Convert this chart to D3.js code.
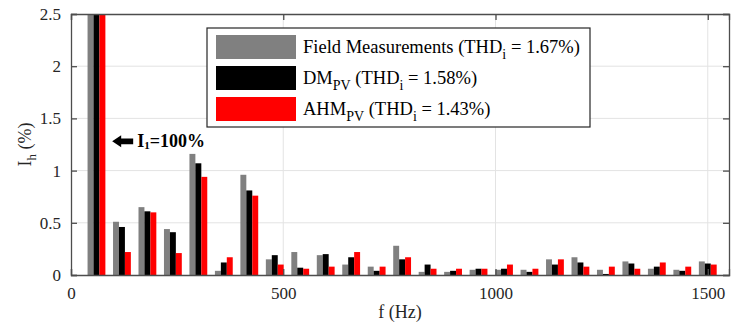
<!DOCTYPE html>
<html>
<head>
<meta charset="utf-8">
<script src="https://cdn.jsdelivr.net/npm/d3@7"></script>
<style>
  body { margin: 0; background: #fff; }
</style>
</head>
<body>
<svg width="742" height="323" font-family="Liberation Serif"></svg>
<script>
// harmonic orders (fundamental 60 Hz)
var orders = d3.range(1, 26);
var fundamental = 60;

// I_h in % of fundamental
var fieldMeas = [100, 0.51, 0.65, 0.44, 1.16, 0.04, 0.96, 0.15, 0.22, 0.19, 0.10, 0.08, 0.28, 0.03, 0.03, 0.05, 0.05, 0.05, 0.15, 0.17, 0.05, 0.13, 0.06, 0.05, 0.13];
var dmPV =      [100, 0.46, 0.61, 0.41, 1.07, 0.12, 0.81, 0.19, 0.07, 0.20, 0.17, 0.04, 0.15, 0.10, 0.04, 0.06, 0.06, 0.03, 0.10, 0.12, 0.01, 0.11, 0.08, 0.04, 0.11];
var ahmPV =     [100, 0.22, 0.60, 0.21, 0.94, 0.17, 0.76, 0.10, 0.06, 0.08, 0.22, 0.08, 0.17, 0.06, 0.06, 0.06, 0.10, 0.06, 0.15, 0.08, 0.08, 0.06, 0.12, 0.08, 0.10];

var xTicks = [0, 500, 1000, 1500];
var yTicks = [0, 0.5, 1, 1.5, 2, 2.5];

var series = [
  {name: "field", values: fieldMeas, color: "#808080", label: [["Field Measurements (THD", ""], ["i", "sub"], [" = 1.67%)", ""]]},
  {name: "dm", values: dmPV, color: "#000000", label: [["DM", ""], ["PV", "sub"], [" (THD", ""], ["i", "sub"], [" = 1.58%)", ""]]},
  {name: "ahm", values: ahmPV, color: "#ff0000", label: [["AHM", ""], ["PV", "sub"], [" (THD", ""], ["i", "sub"], [" = 1.43%)", ""]]}
];

var font = "Liberation Serif";

var svg = d3.select("svg"),
    margin = {top: 14, right: 13, bottom: 48, left: 71},
    width = +svg.attr("width") - margin.left - margin.right,
    height = +svg.attr("height") - margin.top - margin.bottom;

var x = d3.scaleLinear().domain([0, 1550]).range([0, width]),
    y = d3.scaleLinear().domain([0, 2.5]).range([height, 0]);

var axisColor = "#4d4d4d";
var barW = 14; // Hz

var g = svg.append("g").attr("transform", "translate(" + margin.left + "," + margin.top + ")");

svg.append("defs").append("clipPath").attr("id", "plotclip")
  .append("rect").attr("width", width).attr("height", height);

// grid
g.append("g").selectAll("line").data(yTicks.slice(1, -1)).enter().append("line")
  .attr("x1", 0).attr("x2", width)
  .attr("y1", function(d) { return y(d); }).attr("y2", function(d) { return y(d); })
  .attr("stroke", "#e3e3e3").attr("stroke-width", 1);
g.append("g").selectAll("line").data(xTicks.slice(1)).enter().append("line")
  .attr("y1", 0).attr("y2", height)
  .attr("x1", function(d) { return x(d); }).attr("x2", function(d) { return x(d); })
  .attr("stroke", "#e3e3e3").attr("stroke-width", 1);

// bars
var bars = g.append("g").attr("clip-path", "url(#plotclip)");
series.forEach(function(s, i) {
  bars.selectAll(".bar-" + s.name)
    .data(orders)
    .enter().append("rect")
      .attr("class", "bar-" + s.name)
      .attr("x", function(h, k) { return x(h * fundamental + (i - 1.5) * barW); })
      .attr("width", x(barW) - x(0))
      .attr("y", function(h, k) { return y(Math.min(s.values[k], 2.6)); })
      .attr("height", function(h, k) { return height - y(Math.min(s.values[k], 2.6)); })
      .attr("fill", s.color);
});

// axes (box with inward ticks)
var tickLen = 6;
g.append("g").attr("transform", "translate(0," + height + ")")
  .call(d3.axisBottom(x).tickValues(xTicks).tickSize(-tickLen).tickPadding(12).tickFormat(d3.format("d")));
g.append("g")
  .call(d3.axisTop(x).tickValues(xTicks).tickSize(-tickLen).tickFormat(""));
g.append("g")
  .call(d3.axisLeft(y).tickValues(yTicks).tickSize(-tickLen).tickPadding(10).tickFormat(function(d) { return d; }));
g.append("g").attr("transform", "translate(" + width + ",0)")
  .call(d3.axisRight(y).tickValues(yTicks).tickSize(-tickLen).tickFormat(""));

g.selectAll(".domain").attr("stroke", axisColor).attr("stroke-width", 1.3);
g.selectAll(".tick line").attr("stroke", axisColor).attr("stroke-width", 1.3);
g.selectAll(".tick text").attr("fill", "#262626").attr("font-family", font).attr("font-size", 17);

// axis titles
svg.append("text")
  .attr("x", margin.left + width / 2).attr("y", 318)
  .attr("text-anchor", "middle").attr("font-family", font).attr("font-size", 18).attr("fill", "#262626")
  .text("f (Hz)");

var yl = svg.append("text")
  .attr("transform", "translate(31," + (margin.top + height / 2) + ") rotate(-90)")
  .attr("text-anchor", "middle").attr("font-family", font).attr("font-size", 18).attr("fill", "#262626");
yl.append("tspan").text("I");
yl.append("tspan").attr("dy", 5).attr("font-size", 13).text("h");
yl.append("tspan").attr("dy", -5).text(" (%)");

// annotation arrow for fundamental
var ann = g.append("g");
var ay = y(1.28);
var ax0 = x(97);
ann.append("path")
  .attr("d", "M" + ax0 + "," + ay +
    " l9,-6 l0,3.2 l12,0 l0,5.6 l-12,0 l0,3.2 z")
  .attr("fill", "#000");
var at = ann.append("text")
  .attr("x", ax0 + 25).attr("y", ay + 6)
  .attr("font-family", font).attr("font-size", 18).attr("font-weight", "bold").attr("fill", "#000");
at.append("tspan").text("I");
at.append("tspan").attr("dy", 2).attr("font-size", 11).text("1");
at.append("tspan").attr("dy", -2).text("=100%");

// legend
var leg = svg.append("g").attr("transform", "translate(207,28)");
leg.append("rect")
  .attr("width", 383).attr("height", 99)
  .attr("fill", "#fff").attr("stroke", "#262626").attr("stroke-width", 1.2);
series.forEach(function(s, i) {
  var row = leg.append("g").attr("transform", "translate(0," + (7 + i * 31) + ")");
  row.append("rect").attr("x", 9).attr("y", 0).attr("width", 80).attr("height", 24)
    .attr("fill", s.color);
  var t = row.append("text").attr("x", 96).attr("y", 18)
    .attr("font-family", font).attr("font-size", 18.5).attr("fill", "#000");
  var shifted = false;
  s.label.forEach(function(p) {
    var ts = t.append("tspan").text(p[0]);
    if (p[1] === "sub") {
      ts.attr("dy", 6).attr("font-size", 14);
      shifted = true;
    } else if (shifted) {
      ts.attr("dy", -6);
      shifted = false;
    }
  });
});
</script>
</body>
</html>
